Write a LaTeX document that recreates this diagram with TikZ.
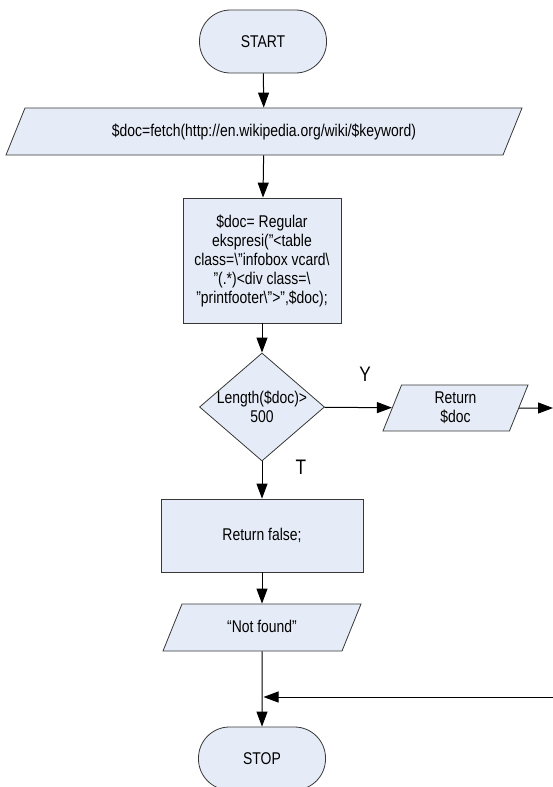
\documentclass[tikz,border=0pt]{standalone}
\usepackage{fontspec}
\setmainfont{Liberation Sans}[FakeStretch=0.82]
\usetikzlibrary{shapes.geometric,arrows.meta}
\definecolor{boxfill}{RGB}{230,236,247}
\definecolor{boxline}{RGB}{55,55,55}
\tikzset{
  shape base/.style={draw=boxline, fill=boxfill, line width=0.8pt, inner sep=0pt,
    align=center, font=\fontsize{17}{19}\selectfont},
  terminal/.style={shape base, rectangle, rounded corners=31pt, minimum width=127pt, minimum height=63pt},
  process/.style={shape base, rectangle},
  io/.style={shape base, trapezium, trapezium left angle=68, trapezium right angle=112,
    trapezium stretches body, inner ysep=15.5pt, text height=12.5pt, text depth=3.5pt},
  decision/.style={shape base, diamond, minimum width=125pt, minimum height=108pt},
  flow/.style={line width=1pt, -{Triangle[length=15pt,width=11pt]}},
  branch/.style={font=\fontsize{21}{24}\selectfont}
}
\begin{document}
\begin{tikzpicture}[x=1pt,y=1pt]
    \useasboundingbox (0,0) rectangle (553,-787);
    \node[terminal] (start) at (263,-41.5) {START};
    \node[io, minimum width=516pt] (fetch) at (264,-131.5) {\$doc=fetch(http://en.wikipedia.org/wiki/\$keyword)};
    \node[process, minimum width=158pt, minimum height=125pt] (regex) at (262,-260.5)
        {\$doc= Regular\\ ekspresi("<table\\ class=\textbackslash"infobox vcard\textbackslash\\ "(.*)<div class=\textbackslash\\ "printfooter\textbackslash">",\$doc);};
    \node[decision] (dec) at (262,-407) {};
    \node[font=\fontsize{17}{19}\selectfont, align=center] (dectext) at (262,-407) {Length(\$doc)>\\500};
    \node[io, minimum width=145pt, inner ysep=7pt, text height=, text depth=] (retdoc) at (455.5,-408) {Return\\\$doc};
    \node[process, minimum width=202pt, minimum height=73pt] (retfalse) at (262,-535.5) {Return false;};
    \node[io, minimum width=198pt] (notfound) at (262,-627.5) {“Not found”};
    \node[terminal] (stop) at (262,-758.5) {STOP};
    \node[branch] (yes) at (365,-374) {Y};
    \node[branch] (no) at (301,-467) {T};
    \coordinate (outdoc) at (553,-408);
    \coordinate (backin) at (553,-697);
    \coordinate (merge) at (263.5,-697);
    \draw[flow] (start) -- (fetch);
    \draw[flow] (fetch) -- (regex);
    \draw[flow] (regex) -- (dec);
    \draw[flow] (dec) -- (retdoc);
    \draw[flow] (retdoc) -- (outdoc);
    \draw[flow] (dec) -- (retfalse);
    \draw[flow] (retfalse) -- (notfound);
    \draw[flow] (notfound) -- (stop);
    \draw[flow] (backin) -- (merge);
\end{tikzpicture}
\end{document}
